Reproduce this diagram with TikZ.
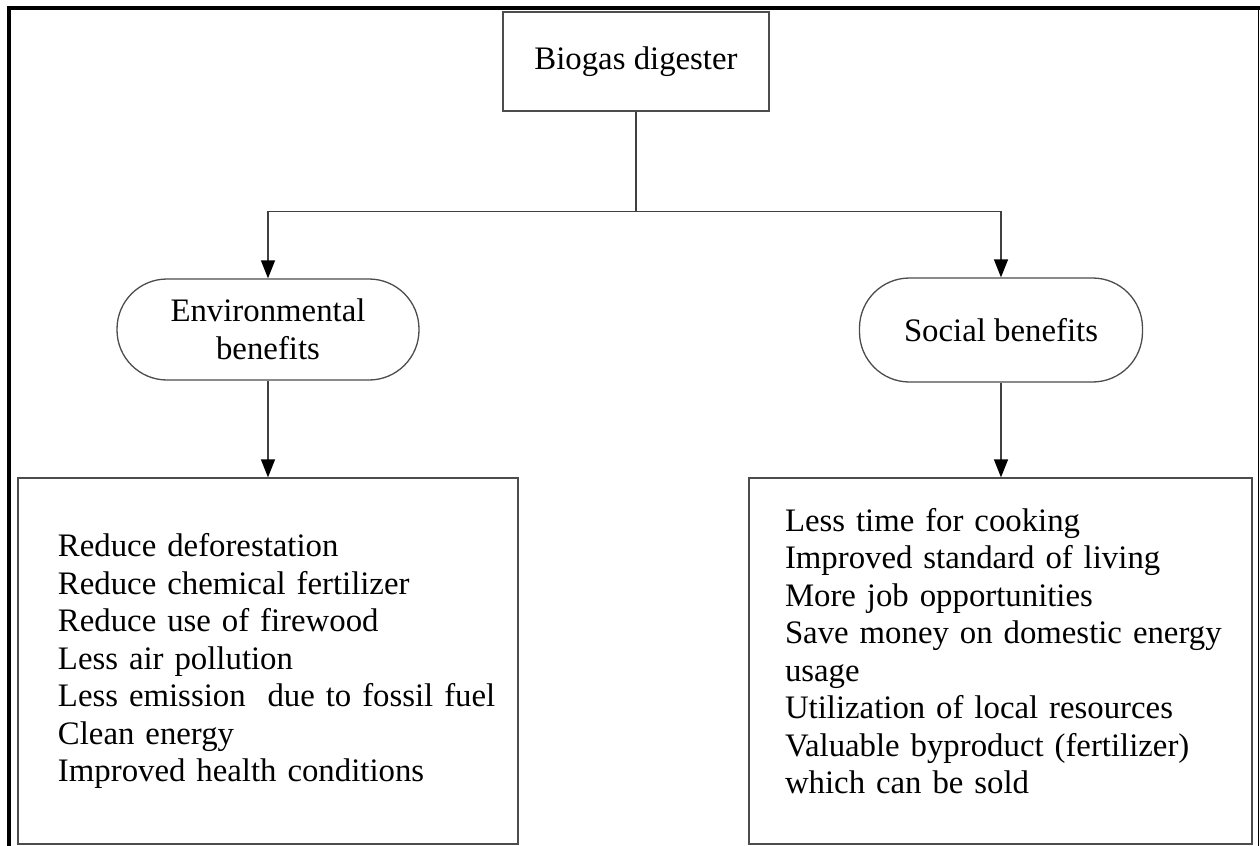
\documentclass[tikz,border=0pt]{standalone}
\usepackage{fontspec}
\setmainfont{Liberation Serif}
\usetikzlibrary{arrows.meta}

\begin{document}
\begin{tikzpicture}[x=0.5pt, y=-0.5pt, font=\fontsize{16.4}{18.75}\selectfont,
    conn/.style={draw=black!75, line width=0.65pt},
    tip/.style={conn, -{Triangle[width=7pt, length=9pt, black]}},
    boxnode/.style={draw=black!70, line width=0.65pt, inner sep=0pt, align=center},
    pill/.style={boxnode, rounded corners=25pt},
    listbox/.style={boxnode, align=left, text width=#1, minimum height=183pt}]
    \useasboundingbox (0,0) rectangle (1260,846);

    \draw[line width=2pt] (9,846) -- (9,8) -- (1260,8);
    \draw[line width=0.65pt] (1258.5,8) -- (1258.5,846);

    \node[boxnode, minimum width=133pt, minimum height=49.5pt] (bio) at (636,61.5) {Biogas digester};
    \node[pill, minimum width=151pt, minimum height=50.5pt] (env) at (268,329.5) {Environmental\\benefits};
    \node[pill, minimum width=141.5pt, minimum height=52pt] (soc) at (1001,330) {Social benefits};

    \node[listbox=250pt, execute at begin node={\leftskip=20pt}] (envlist) at (268,661)
        {Reduce deforestation\\
         Reduce chemical fertilizer\\
         Reduce use of firewood\\
         Less air pollution\\
         Less emission~ due to fossil fuel\\
         Clean energy\\
         Improved health conditions};
    \node[listbox=251.5pt, execute at begin node={\leftskip=18pt}] (soclist) at (1000.5,661)
        {Less time for cooking\\
         Improved standard of living\\
         More job opportunities\\
         Save money on domestic energy\\
         usage\\
         Utilization of local resources\\
         Valuable byproduct (fertilizer)\\
         which can be sold\par\kern10pt};

    \coordinate (fork) at (636,211.5);
    \draw[conn] (bio.south) -- (fork);
    \draw[tip] (fork) -| (env.north);
    \draw[tip] (fork) -| (soc.north);
    \draw[tip] (env.south) -- (env.south |- envlist.north);
    \draw[tip] (soc.south) -- (soc.south |- soclist.north);
\end{tikzpicture}
\end{document}
